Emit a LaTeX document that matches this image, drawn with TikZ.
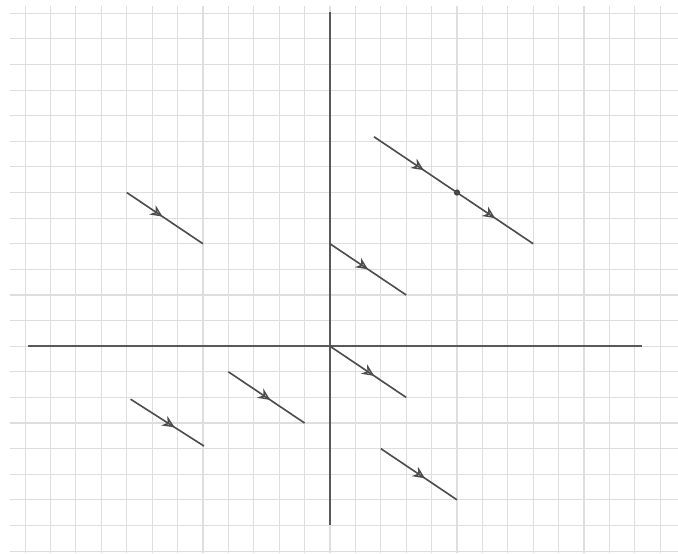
\documentclass[tikz,border=0pt]{standalone}
\usetikzlibrary{arrows.meta,decorations.markings}
\begin{document}
\begin{tikzpicture}[x=0.5cm,y=0.504cm,
  gridline/.style={draw=black!13,line width=0.6pt},
  axisline/.style={draw=black!65,line width=1.2pt},
  vecline/.style={draw=black!70,line width=0.9pt,
    postaction={decorate,decoration={markings,
      mark=at position #1 with {\arrow{Stealth[length=2.4mm,width=2.2mm,open,line width=0.8pt]}}}}},
  vecline/.default=0.55,
  pt/.style={circle,fill=black!75,inner sep=0pt,minimum size=3.5pt}]
\useasboundingbox (-12.99,-8.09) rectangle (13.70,13.52);
\fill[white] (-12.99,-8.09) rectangle (13.70,13.52);
% grid
\foreach \y in {-8,...,13} \draw[gridline] (-12.6,\y) -- (13.70,\y);
\foreach \x in {-12,...,13} \draw[gridline] (\x,-8.09) -- (\x,13.28);
% axes
\coordinate (xl) at (-11.9,0);
\coordinate (xr) at (12.3,0);
\coordinate (yb) at (0,-7.0);
\coordinate (yt) at (0,13.05);
\draw[axisline] (xl) -- (xr);
\draw[axisline] (yb) -- (yt);
\coordinate (O) at (0,0);
% vectors
\coordinate (a1) at (-8,6);   \coordinate (a2) at (-5,4);
\coordinate (b1) at (0,4);    \coordinate (b2) at (3,2);
\coordinate (c1) at (1.73,8.18); \node[pt] (c2) at (5,6) {}; \coordinate (c3) at (8,4);
\coordinate (d2) at (3,-2);
\coordinate (e1) at (2,-4);   \coordinate (e2) at (5,-6);
\coordinate (f1) at (-4,-1);  \coordinate (f2) at (-1,-3);
\coordinate (g1) at (-7.85,-2.07); \coordinate (g2) at (-4.96,-3.9);
\draw[vecline=0.47] (a1) -- (a2);
\draw[vecline=0.5] (b1) -- (b2);
\draw[vecline=0.6] (c1) -- (c2.center);
\draw[vecline=0.5] (c2.center) -- (c3);
\draw[vecline=0.58] (O) -- (d2);
\draw[vecline=0.58] (e1) -- (e2);
\draw[vecline=0.55] (f1) -- (f2);
\draw[vecline=0.6] (g1) -- (g2);
\end{tikzpicture}
\end{document}
